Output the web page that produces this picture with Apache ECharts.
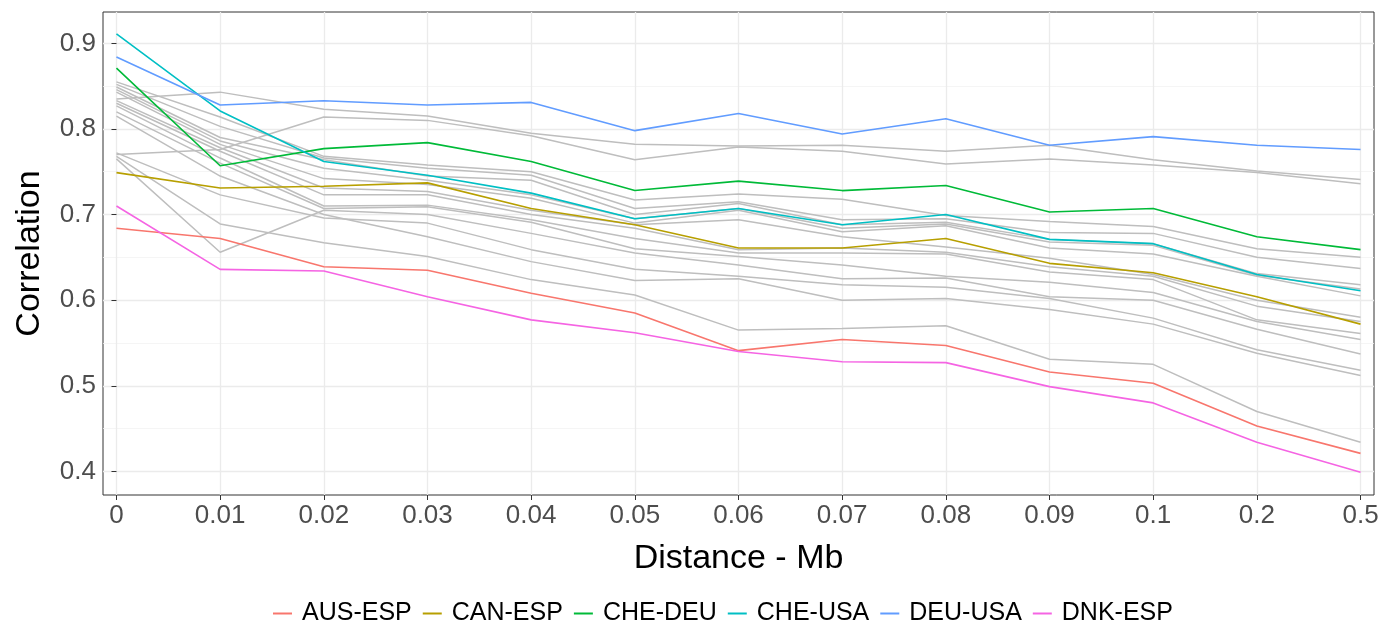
<!DOCTYPE html>
<html>
<head>
<meta charset="utf-8">
<script src="https://cdn.jsdelivr.net/npm/echarts@6/dist/echarts.min.js"></script>
<style>
  html, body { margin: 0; padding: 0; background: #fff; }
  #main { width: 1396px; height: 623px; }
</style>
</head>
<body>
<div id="main"></div>
<script>
// distance classes (Mb)
var xLabels = ['0', '0.01', '0.02', '0.03', '0.04', '0.05', '0.06', '0.07', '0.08', '0.09', '0.1', '0.2', '0.5'];
var yTicks = [0.4, 0.5, 0.6, 0.7, 0.8, 0.9];
var yMinorTicks = [0.45, 0.55, 0.65, 0.75, 0.85];

// highlighted pairs
var pairNames = ['AUS-ESP', 'CAN-ESP', 'CHE-DEU', 'CHE-USA', 'DEU-USA', 'DNK-ESP'];
var ausEsp = [0.684, 0.672, 0.639, 0.635, 0.608, 0.585, 0.541, 0.554, 0.547, 0.516, 0.503, 0.453, 0.421];
var canEsp = [0.749, 0.731, 0.733, 0.737, 0.707, 0.688, 0.661, 0.661, 0.672, 0.643, 0.632, 0.604, 0.572];
var cheDeu = [0.871, 0.757, 0.777, 0.784, 0.762, 0.728, 0.739, 0.728, 0.734, 0.703, 0.707, 0.674, 0.659];
var cheUsa = [0.911, 0.821, 0.762, 0.746, 0.725, 0.695, 0.707, 0.688, 0.700, 0.671, 0.666, 0.630, 0.611];
var deuUsa = [0.884, 0.828, 0.833, 0.828, 0.831, 0.798, 0.818, 0.794, 0.812, 0.781, 0.791, 0.781, 0.776];
var dnkEsp = [0.710, 0.636, 0.634, 0.604, 0.577, 0.562, 0.540, 0.528, 0.527, 0.499, 0.480, 0.434, 0.399];

// all other pairs (drawn in grey)
var otherPairs = [
  [0.835, 0.843, 0.823, 0.815, 0.795, 0.782, 0.780, 0.781, 0.774, 0.781, 0.764, 0.751, 0.741],
  [0.770, 0.776, 0.814, 0.810, 0.792, 0.764, 0.779, 0.774, 0.759, 0.765, 0.758, 0.749, 0.736],
  [0.855, 0.814, 0.768, 0.758, 0.750, 0.717, 0.724, 0.718, 0.699, 0.692, 0.686, 0.660, 0.650],
  [0.852, 0.803, 0.766, 0.754, 0.746, 0.707, 0.715, 0.694, 0.695, 0.679, 0.678, 0.650, 0.637],
  [0.849, 0.790, 0.764, 0.745, 0.740, 0.700, 0.713, 0.688, 0.691, 0.671, 0.666, 0.631, 0.618],
  [0.846, 0.786, 0.754, 0.740, 0.723, 0.695, 0.707, 0.684, 0.689, 0.668, 0.664, 0.629, 0.613],
  [0.843, 0.782, 0.742, 0.735, 0.719, 0.690, 0.705, 0.680, 0.687, 0.661, 0.654, 0.628, 0.605],
  [0.833, 0.778, 0.731, 0.727, 0.705, 0.688, 0.694, 0.674, 0.662, 0.649, 0.630, 0.600, 0.580],
  [0.830, 0.774, 0.723, 0.723, 0.700, 0.684, 0.659, 0.661, 0.656, 0.639, 0.628, 0.593, 0.575],
  [0.827, 0.766, 0.710, 0.711, 0.694, 0.672, 0.655, 0.655, 0.654, 0.633, 0.624, 0.577, 0.561],
  [0.820, 0.760, 0.707, 0.709, 0.691, 0.660, 0.651, 0.641, 0.628, 0.621, 0.609, 0.575, 0.554],
  [0.815, 0.745, 0.700, 0.674, 0.645, 0.623, 0.625, 0.600, 0.602, 0.589, 0.572, 0.538, 0.512],
  [0.772, 0.723, 0.696, 0.690, 0.659, 0.636, 0.628, 0.618, 0.615, 0.602, 0.579, 0.542, 0.518],
  [0.765, 0.656, 0.705, 0.700, 0.678, 0.655, 0.641, 0.625, 0.626, 0.604, 0.600, 0.566, 0.537],
  [0.768, 0.689, 0.667, 0.651, 0.624, 0.606, 0.565, 0.567, 0.570, 0.531, 0.525, 0.470, 0.434]
];

var pairColors = ['#F8766D', '#B79F00', '#00BA38', '#00BFC4', '#619CFF', '#F564E3'];
var greyColor = '#BEBEBE';
var labelFont = 'Liberation Sans, Arial, sans-serif';

function toPoints(values) {
  return values.map(function (v, i) { return [i, v]; });
}

var myChart = echarts.init(document.getElementById('main'));

var series = [];
otherPairs.forEach(function (vals, k) {
  series.push({
    name: 'other' + k,
    type: 'line',
    data: toPoints(vals),
    symbol: 'none',
    silent: true,
    lineStyle: { color: greyColor, width: 1.5 },
    z: 2
  });
});
[ausEsp, canEsp, cheDeu, cheUsa, deuUsa, dnkEsp].forEach(function (vals, k) {
  series.push({
    name: pairNames[k],
    type: 'line',
    data: toPoints(vals),
    symbol: 'none',
    color: pairColors[k],
    lineStyle: { color: pairColors[k], width: 1.6 },
    z: 3
  });
});

var xTickIdx = xLabels.map(function (l, i) { return i; });

var option = {
  animation: false,
  backgroundColor: '#fff',
  grid: {
    left: 103, right: 22, top: 12, bottom: 128,
    show: true, borderColor: '#333333', borderWidth: 1, backgroundColor: '#fff'
  },
  legend: {
    data: pairNames,
    left: 268,
    top: 596,
    icon: 'rect',
    itemWidth: 19,
    itemHeight: 2,
    itemGap: 11,
    textStyle: { fontSize: 25, color: '#000', fontFamily: labelFont, padding: [0, 0, 0, 5] }
  },
  xAxis: {
    type: 'value',
    min: -0.13,
    max: 12.13,
    name: 'Distance - Mb',
    nameLocation: 'middle',
    nameGap: 47,
    nameTextStyle: { fontSize: 34, color: '#000', fontFamily: labelFont },
    axisLine: { show: false },
    axisTick: { show: true, length: 5, customValues: xTickIdx, lineStyle: { color: '#333' } },
    axisLabel: {
      customValues: xTickIdx,
      formatter: function (v) { return xLabels[Math.round(v)]; },
      fontSize: 26, color: '#4D4D4D', fontFamily: labelFont, margin: 8
    },
    splitLine: { show: true, lineStyle: { color: '#EBEBEB', width: 1.3 } }
  },
  yAxis: [{
    type: 'value',
    min: 0.3724,
    max: 0.9366,
    name: 'Correlation',
    nameLocation: 'middle',
    nameGap: 56,
    nameTextStyle: { fontSize: 34, color: '#000', fontFamily: labelFont },
    axisLine: { show: false },
    axisTick: { show: true, length: 5, customValues: yTicks, lineStyle: { color: '#333' } },
    axisLabel: {
      customValues: yTicks,
      formatter: function (v) { return v.toFixed(1); },
      fontSize: 26, color: '#4D4D4D', fontFamily: labelFont, margin: 7
    },
    splitLine: { show: true, lineStyle: { color: '#EBEBEB', width: 1.3 } }
  }, {
    type: 'value',
    min: 0.3724,
    max: 0.9366,
    position: 'left',
    axisLine: { show: false },
    axisTick: { show: false, customValues: yMinorTicks },
    axisLabel: { show: false, customValues: yMinorTicks },
    splitLine: { show: true, lineStyle: { color: '#F2F2F2', width: 0.8 } }
  }],
  series: series
};

myChart.setOption(option);
</script>
</body>
</html>
